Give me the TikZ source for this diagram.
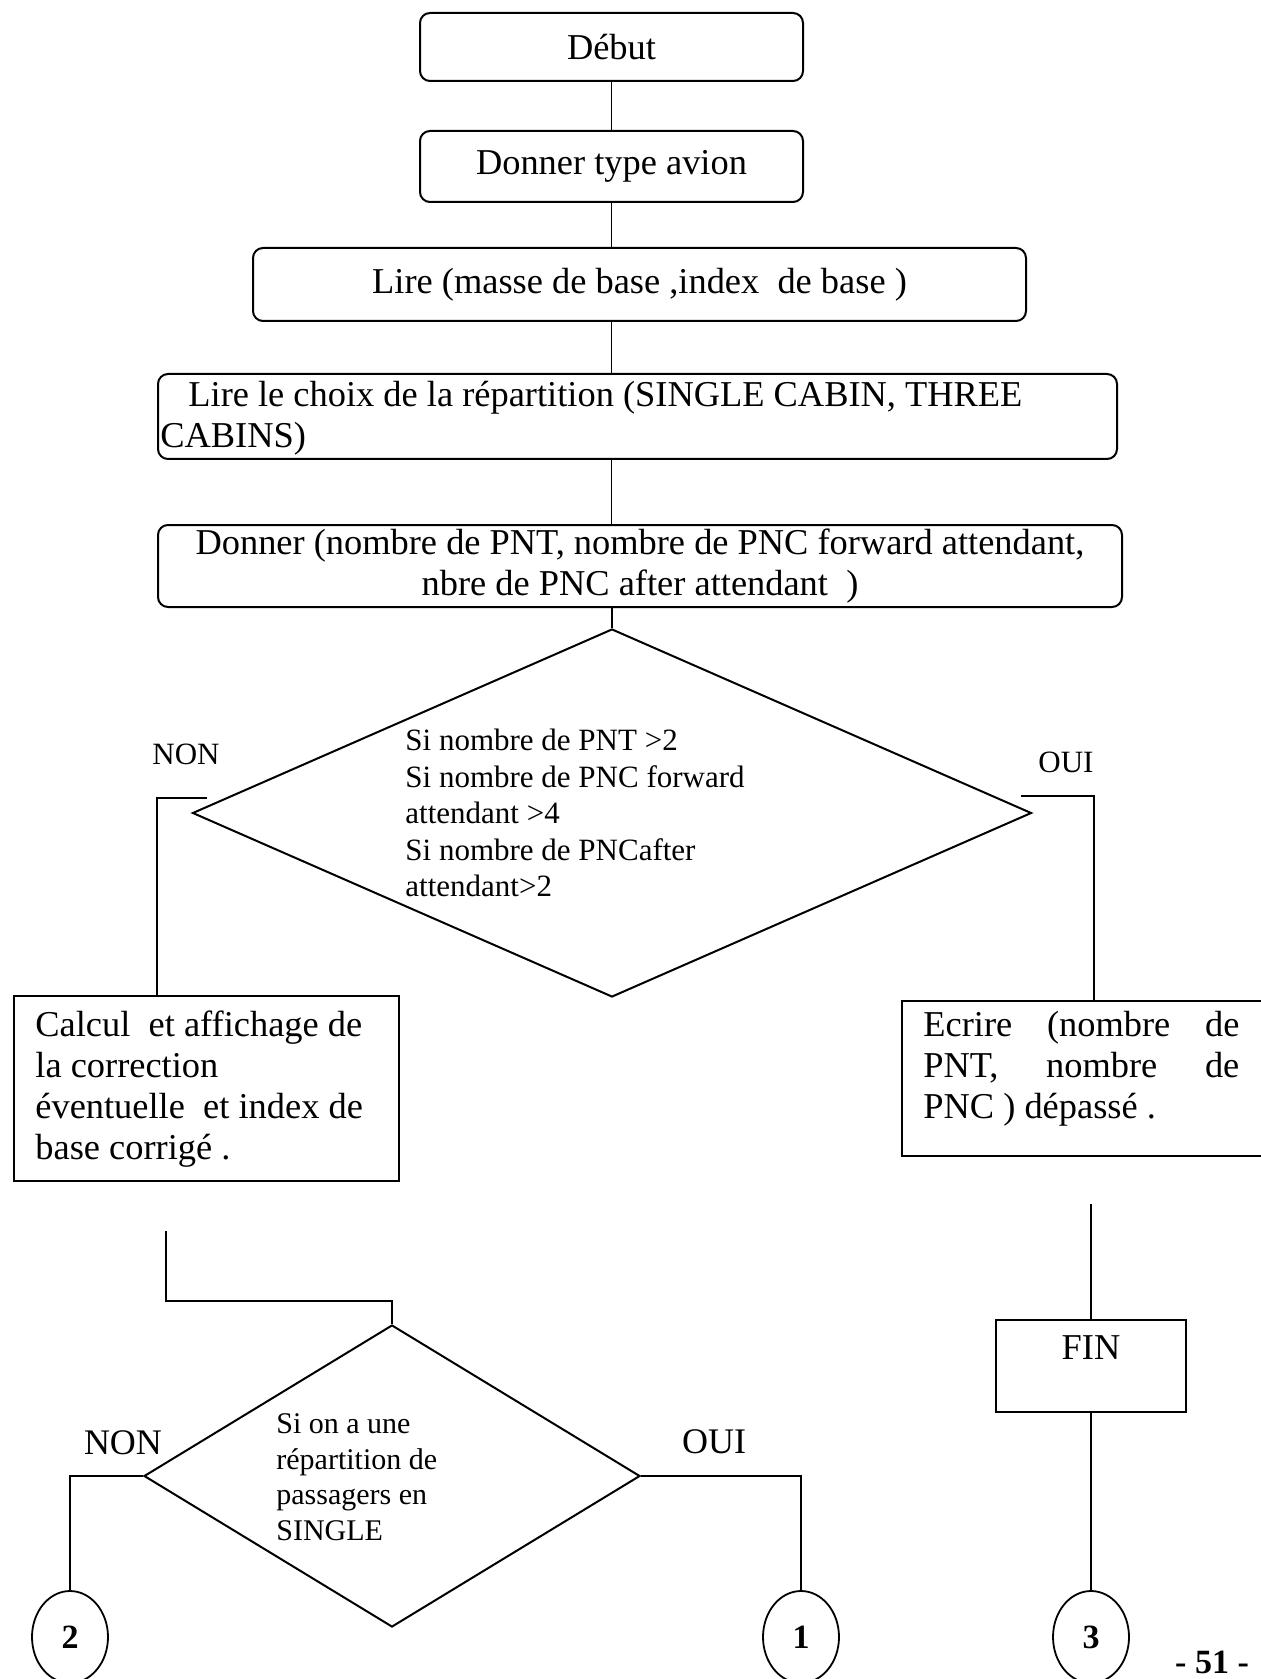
\documentclass[tikz,border=0pt]{standalone}
\usepackage{fontspec}
\setmainfont{Liberation Serif}
\usetikzlibrary{shapes.geometric}
\begin{document}
\begin{tikzpicture}[x=0.5pt,y=-0.5pt,
  rbox/.style={draw, line width=1pt, rounded corners=5pt, inner sep=0pt},
  sbox/.style={draw, line width=1pt, inner sep=0pt},
  dec/.style={draw, diamond, line width=1pt, inner sep=0pt},
  conn/.style={line width=0.9pt},
  term/.style={draw, ellipse, line width=0.9pt, inner sep=0pt, minimum width=38pt, minimum height=46pt, font=\fontsize{17pt}{19pt}\selectfont\bfseries},
  big/.style={font=\fontsize{18.2pt}{20.5pt}\selectfont},
  lbl/.style={inner sep=0pt, font=\fontsize{15.5pt}{18pt}\selectfont},
  lblb/.style={inner sep=0pt, font=\fontsize{18pt}{20pt}\selectfont}]
\useasboundingbox (0,0) rectangle (1261,1679);

% top chain
\node[rbox, big, minimum width=191.5pt, minimum height=34pt] (debut) at (611.5,47) {Début};
\node[rbox, big, minimum width=191.5pt, minimum height=35.5pt] (dta) at (611.5,166.5) {Donner type avion};
\node[rbox, big, minimum width=386.5pt, minimum height=36.5pt] (lire) at (639.5,284.5) {Lire (masse de base ,index\ \ de base )};
\node[rbox, minimum width=479.5pt, minimum height=42.5pt] (choix) at (637.5,416.5) {};
\node[big, anchor=west, align=left, inner sep=0pt] (choixT) at (160,418)
  {\hspace*{14pt}Lire le choix de la répartition (SINGLE CABIN, THREE\\CABINS)};
\node[rbox, big, align=center, minimum width=482pt, minimum height=41pt] (nombre) at (640,566)
  {Donner (nombre de PNT, nombre de PNC forward attendant,\\nbre de PNC after attendant\ \ )};

% first decision
\node[dec, minimum width=419.5pt, minimum height=184pt] (d1) at (612,813) {};
\node[anchor=west, align=left, inner sep=0pt, font=\fontsize{15.5pt}{18.25pt}\selectfont] (d1T) at (405,813)
  {Si nombre de PNT >2\\Si nombre de PNC forward\\attendant >4\\Si nombre de PNCafter\\attendant>2};
\node[lbl] (non1) at (186,754) {NON};
\node[lbl] (oui1) at (1066,762) {OUI};

% boxes after first decision
\node[sbox, minimum width=192.5pt, minimum height=92.5pt] (calc) at (206.5,1088.5) {};
\node[big, anchor=west, align=left, inner sep=0pt] (calcT) at (35,1089)
  {Calcul\ \ et affichage de\\la correction\\éventuelle\ \ et index de\\base corrigé .};
\node[sbox, minimum width=189pt, minimum height=77.5pt] (ecr) at (1091,1078.5) {};
\node[big, anchor=west, align=left, inner sep=0pt] (ecrT) at (923,1069)
  {\makebox[158pt][s]{Ecrire (nombre de}\\\makebox[158pt][s]{PNT, nombre de}\\PNC ) dépassé .};

% connectors top
\draw[conn] (debut.south) -- (dta.north);
\draw[conn] (dta.south) -- (dta.south |- lire.north);
\draw[conn] (lire.south -| dta.south) -- (choix.north -| dta.south);
\draw[conn] (choix.south -| dta.south) -- (nombre.north -| dta.south);
\draw[conn] (nombre.south -| d1.north) -- (d1.north);

\coordinate (n1a) at (207,798);
\coordinate (n1b) at (157,798);
\draw[conn] (n1a) -- (n1b) -- (n1b |- calc.north);
\coordinate (o1a) at (1021,796);
\coordinate (o1b) at (1094,796);
\draw[conn] (o1a) -- (o1b) -- (o1b |- ecr.north);

% second decision
\node[dec, minimum width=248pt, minimum height=151pt] (d2) at (392,1476) {};
\node[anchor=west, align=left, inner sep=0pt, font=\fontsize{15pt}{17.8pt}\selectfont] (d2T) at (276,1477)
  {Si on a une\\répartition de\\passagers en\\SINGLE};
\node[lblb] (non2) at (123,1443) {NON};
\node[lblb] (oui2) at (714,1442) {OUI};

\coordinate (l2a) at (166,1231);
\coordinate (l2b) at (166,1301);
\draw[conn] (l2a) -- (l2b) -| (d2.north);

% terminals
\node[term] (c2) at (70,1637) {2};
\node[term] (c1) at (801,1637) {1};
\node[term] (c3) at (1091,1637) {3};
\draw[conn] (d2.west) -| (c2.north);
\draw[conn] (d2.east) -| (c1.north);

% right column
\node[sbox, minimum width=95pt, minimum height=46pt] (fin) at (1091,1366) {};
\node[big, inner sep=0pt] (finT) at (1091,1348) {FIN};
\coordinate (r3a) at (1091,1204);
\draw[conn] (r3a) -- (fin.north);
\draw[conn] (fin.south) -- (c3.north);

\node[inner sep=0pt, font=\fontsize{17pt}{19pt}\selectfont\bfseries] (page) at (1212,1662) {- 51 -};
\end{tikzpicture}
\end{document}
